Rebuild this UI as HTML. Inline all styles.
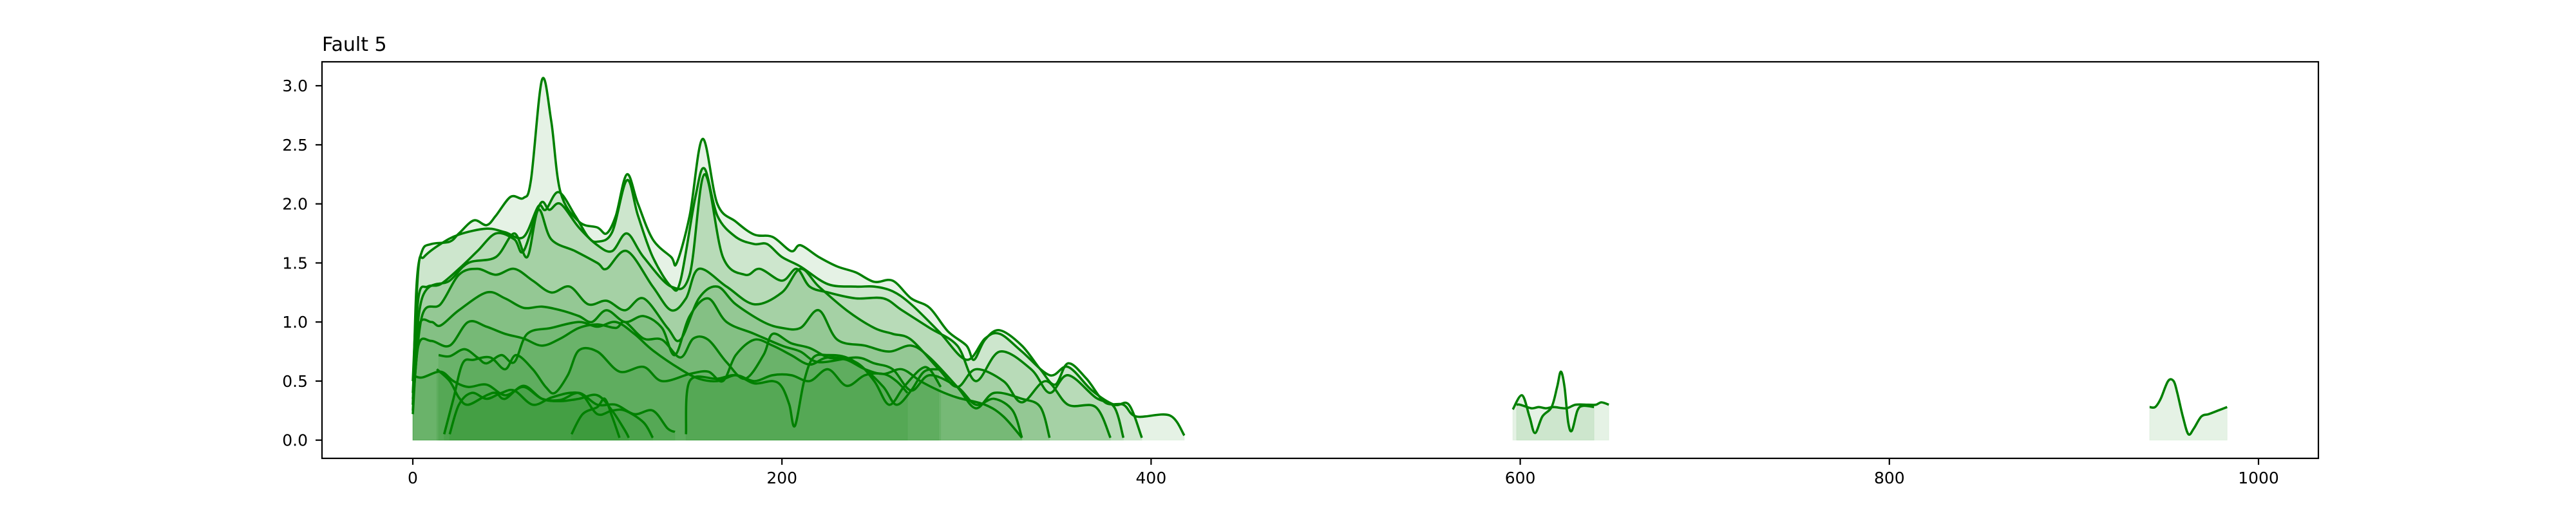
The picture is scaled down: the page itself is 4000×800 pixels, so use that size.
<!DOCTYPE html>
<html><head><meta charset="utf-8"><style>
html,body{margin:0;padding:0;background:#fff;}
svg{display:block;font-family:"DejaVu Sans","Liberation Sans",sans-serif;}
</style></head><body>
<svg id="chart" width="4000" height="800" viewBox="0 0 4000 800" xmlns="http://www.w3.org/2000/svg">
<defs><clipPath id="plotclip"><rect x="500" y="96" width="3100" height="616"/></clipPath></defs>
<text x="500" y="79" font-size="30">Fault 5</text>
<g id="fills" clip-path="url(#plotclip)"></g>
<g id="lines" clip-path="url(#plotclip)"></g>
<rect x="500" y="96" width="3100" height="616" fill="none" stroke="#000" stroke-width="2.2"/>
<g id="xticks"></g>
<g id="yticks"></g>
</svg>
<script>
const xTickValues = [0, 200, 400, 600, 800, 1000];
const yTickValues = [0.0, 0.5, 1.0, 1.5, 2.0, 2.5, 3.0];
const yTickLabels = ["0.0", "0.5", "1.0", "1.5", "2.0", "2.5", "3.0"];

const sA = [[0,0.3],[2,1.3],[5,1.6],[10,1.66],[20,1.68],[25,1.75],[33,1.86],[40,1.82],[45,1.9],[53,2.06],[60,2.05],[64,2.2],[70,3.05],[75,2.7],[80,2.1],[90,1.85],[100,1.8],[105,1.75],[110,1.9],[116,2.25],[122,2.0],[130,1.7],[140,1.55],[143,1.5],[150,1.9],[157,2.55],[165,2.0],[175,1.85],[185,1.74],[195,1.72],[205,1.6],[210,1.65],[220,1.55],[230,1.47],[240,1.42],[250,1.34],[260,1.35],[270,1.2],[280,1.12],[290,0.92],[300,0.8],[304,0.68],[310,0.85],[318,0.93],[330,0.8],[340,0.6],[348,0.47],[355,0.65],[365,0.52],[375,0.32],[385,0.3],[392,0.2],[410,0.21],[418,0.04]];
const sB = [[0,0.5],[3,1.45],[6,1.55],[15,1.66],[25,1.74],[40,1.79],[50,1.76],[60,1.72],[68,1.98],[72,1.95],[79,2.1],[88,1.9],[95,1.72],[100,1.68],[108,1.76],[116,2.2],[122,1.9],[130,1.55],[140,1.3],[145,1.35],[153,2.05],[158,2.3],[165,1.9],[175,1.72],[185,1.66],[192,1.66],[200,1.55],[210,1.47],[225,1.32],[240,1.3],[250,1.3],[260,1.26],[270,1.15],[285,0.92],[300,0.68],[310,0.86],[318,0.9],[330,0.75],[345,0.55],[355,0.62],[368,0.42],[380,0.3],[388,0.3],[395,0.02]];
const sC = [[0,0.4],[3,1.2],[8,1.3],[15,1.32],[25,1.45],[35,1.6],[45,1.75],[55,1.7],[60,1.6],[69,2.0],[74,1.95],[80,2.0],[90,1.8],[100,1.65],[108,1.6],[116,1.75],[125,1.55],[140,1.3],[150,1.4],[158,2.25],[168,1.55],[180,1.4],[188,1.45],[200,1.35],[208,1.45],[215,1.3],[225,1.25],[240,1.2],[255,1.2],[265,1.1],[280,0.95],[295,0.8],[305,0.5],[318,0.75],[335,0.6],[345,0.4],[355,0.55],[370,0.36],[380,0.28],[385,0.02]];
const sD = [[0,0.35],[5,1.2],[20,1.35],[30,1.5],[45,1.55],[55,1.75],[62,1.55],[68,1.95],[75,1.7],[88,1.6],[100,1.5],[105,1.45],[116,1.6],[130,1.3],[140,1.1],[148,1.2],[155,1.45],[170,1.3],[185,1.15],[200,1.25],[210,1.45],[220,1.3],[235,1.1],[250,0.95],[260,0.9],[270,0.85],[285,0.6],[295,0.45],[305,0.6],[320,0.5],[330,0.32],[343,0.5],[355,0.3],[370,0.28],[378,0.02]];
const sE = [[0,0.3],[5,1.05],[15,1.15],[25,1.4],[35,1.45],[45,1.4],[55,1.45],[65,1.35],[75,1.25],[85,1.3],[95,1.15],[105,1.18],[115,1.1],[125,1.2],[138,0.95],[145,0.85],[155,1.2],[165,1.3],[175,1.15],[190,1.0],[200,0.95],[210,0.95],[220,1.1],[230,0.85],[245,0.8],[258,0.75],[270,0.8],[280,0.7],[295,0.45],[305,0.27],[315,0.4],[330,0.35],[340,0.28],[345,0.02]];
const sF = [[0,0.25],[3,0.95],[10,1.0],[15,0.97],[25,1.1],[40,1.25],[50,1.2],[60,1.12],[70,1.13],[80,1.1],[90,1.05],[97,1.0],[105,1.1],[115,1.0],[125,1.05],[135,0.95],[142,0.72],[150,1.05],[160,1.2],[170,1.0],[185,0.9],[200,0.8],[210,0.75],[220,0.66],[240,0.7],[250,0.65],[260,0.6],[270,0.42],[280,0.55],[295,0.45],[305,0.3],[315,0.35],[325,0.25],[330,0.02]];
const sG = [[0,0.22],[3,0.8],[10,0.84],[20,0.8],[30,1.0],[40,0.96],[50,0.9],[60,0.86],[70,0.8],[80,0.86],[90,0.95],[100,0.98],[110,0.95],[115,1.0],[125,0.86],[135,0.85],[145,0.7],[152,0.86],[160,0.85],[170,0.66],[180,0.52],[190,0.72],[195,0.9],[205,0.82],[215,0.78],[225,0.7],[235,0.68],[245,0.6],[255,0.56],[265,0.6],[275,0.5],[285,0.42],[295,0.36],[310,0.3],[320,0.2],[330,0.02]];
const sH = [[0,0.55],[5,0.53],[15,0.58],[22,0.5],[30,0.45],[40,0.47],[50,0.38],[60,0.45],[70,0.35],[80,0.34],[90,0.4],[100,0.3],[110,0.3],[120,0.22],[130,0.25],[138,0.1],[142,0.07]];
const sI = [[14,0.72],[20,0.71],[28,0.77],[35,0.7],[40,0.65],[48,0.72],[55,0.66],[62,0.9],[75,0.95],[90,1.0],[100,0.96],[110,1.0],[120,0.9],[130,0.76],[145,0.6],[155,0.52],[165,0.5],[175,0.55],[185,0.5],[195,0.55],[205,0.55],[215,0.5],[225,0.6],[235,0.46],[245,0.55],[255,0.56],[262,0.5],[268,0.4]];
const sJ = [[13,0.6],[20,0.5],[25,0.36],[30,0.3],[40,0.38],[45,0.4],[50,0.35],[60,0.46],[70,0.35],[80,0.33],[90,0.35],[100,0.38],[108,0.25],[115,0.08],[117,0.02]];
const sK = [[17,0.05],[22,0.35],[27,0.65],[33,0.68],[42,0.7],[50,0.6],[56,0.72],[65,0.6],[72,0.45],[77,0.4],[84,0.55],[90,0.76],[100,0.75],[112,0.58],[125,0.62],[135,0.5],[150,0.56],[160,0.58],[168,0.5],[175,0.72],[185,0.85],[195,0.8],[205,0.72],[215,0.64],[225,0.7],[240,0.66],[250,0.5],[258,0.3],[266,0.45],[275,0.6],[280,0.6],[286,0.45]];
const sL = [[20,0.05],[25,0.3],[32,0.4],[40,0.35],[48,0.4],[55,0.42],[65,0.3],[75,0.36],[85,0.4],[92,0.38],[100,0.22],[108,0.25],[115,0.25],[125,0.15],[130,0.02]];
const sM = [[86,0.05],[92,0.22],[100,0.28],[104,0.35],[108,0.2],[112,0.02]];
const sN = [[148,0.05],[150,0.5],[165,0.52],[175,0.55],[185,0.48],[195,0.5],[200,0.45],[204,0.3],[207,0.12],[212,0.5],[217,0.7],[225,0.72],[235,0.7],[245,0.6],[255,0.45],[262,0.3],[270,0.42],[277,0.58],[285,0.6]];
const sP = [[596,0.26],[601,0.38],[605,0.2],[608,0.06],[612,0.2],[617,0.28],[620,0.45],[622,0.58],[624,0.45],[626,0.15],[628,0.08],[631,0.25],[634,0.29],[640,0.28]];
const sQ = [[598,0.3],[600,0.3],[606,0.27],[610,0.28],[614,0.27],[618,0.28],[625,0.27],[630,0.3],[637,0.3],[641,0.3],[644,0.32],[648,0.3]];
const sR = [[941,0.28],[944,0.28],[947,0.35],[951,0.5],[954,0.5],[956,0.4],[959,0.2],[962,0.05],[965,0.1],[969,0.2],[973,0.22],[978,0.25],[983,0.28]];
const seriesList = [sA, sB, sC, sD, sE, sF, sG, sH, sI, sJ, sK, sL, sM, sN, sP, sQ, sR];
const seriesNames = ["a","b","c","d","e","f","g","h","i","j","k","l","m","n","p","q","r"];

const X0 = 641, XPX = 2.866, Y0 = 683.7, YPX = 183.5;
function sx(v){ return X0 + v * XPX; }
function sy(v){ return Y0 - v * YPX; }
const NS = 'http://www.w3.org/2000/svg';

function smoothPath(pts){
  let d = 'M' + pts[0][0].toFixed(1) + ',' + pts[0][1].toFixed(1);
  for (let i = 0; i < pts.length - 1; i++){
    const p0 = pts[Math.max(0, i-1)], p1 = pts[i], p2 = pts[i+1], p3 = pts[Math.min(pts.length-1, i+2)];
    const c1x = p1[0] + (p2[0]-p0[0])/6, c1y = p1[1] + (p2[1]-p0[1])/6;
    const c2x = p2[0] - (p3[0]-p1[0])/6, c2y = p2[1] - (p3[1]-p1[1])/6;
    d += ' C' + c1x.toFixed(1)+','+c1y.toFixed(1)+' '+c2x.toFixed(1)+','+c2y.toFixed(1)+' '+p2[0].toFixed(1)+','+p2[1].toFixed(1);
  }
  return d;
}

const fillsG = document.getElementById('fills');
const linesG = document.getElementById('lines');
seriesList.forEach((s, idx) => {
  const pts = s.map(p => [sx(p[0]), sy(p[1])]);
  const lineD = smoothPath(pts);
  const first = pts[0], last = pts[pts.length-1];
  const fillD = lineD + ' L' + last[0].toFixed(1) + ',' + sy(0).toFixed(1) + ' L' + first[0].toFixed(1) + ',' + sy(0).toFixed(1) + ' Z';
  const f = document.createElementNS(NS, 'path');
  f.setAttribute('d', fillD);
  f.setAttribute('fill', 'rgb(0,128,0)');
  f.setAttribute('fill-opacity', '0.1');
  f.setAttribute('stroke', 'rgb(0,128,0)');
  f.setAttribute('stroke-opacity', '0.06');
  f.setAttribute('stroke-width', '1');
  
  
  fillsG.appendChild(f);
  const l = document.createElementNS(NS, 'path');
  l.setAttribute('d', lineD);
  l.setAttribute('fill', 'none');
  l.setAttribute('stroke', '#008000');
  l.setAttribute('stroke-width', '3.6');
  l.setAttribute('stroke-linejoin', 'round');
  
  
  linesG.appendChild(l);
});

const xg = document.getElementById('xticks');
xTickValues.forEach(v => {
  const x = sx(v);
  const t = document.createElementNS(NS, 'line');
  t.setAttribute('x1', x); t.setAttribute('x2', x);
  t.setAttribute('y1', 712); t.setAttribute('y2', 722);
  t.setAttribute('stroke', '#000'); t.setAttribute('stroke-width', '2.2');
  
  
  xg.appendChild(t);
  const tx = document.createElementNS(NS, 'text');
  tx.setAttribute('x', x); tx.setAttribute('y', 751);
  tx.setAttribute('text-anchor', 'middle'); tx.setAttribute('font-size', '25');
  tx.textContent = String(v);
  
  
  xg.appendChild(tx);
});
const yg = document.getElementById('yticks');
yTickValues.forEach((v, i) => {
  const y = sy(v);
  const t = document.createElementNS(NS, 'line');
  t.setAttribute('x1', 490); t.setAttribute('x2', 500);
  t.setAttribute('y1', y); t.setAttribute('y2', y);
  t.setAttribute('stroke', '#000'); t.setAttribute('stroke-width', '2.2');
  
  
  yg.appendChild(t);
  const tx = document.createElementNS(NS, 'text');
  tx.setAttribute('x', 478); tx.setAttribute('y', y + 9);
  tx.setAttribute('text-anchor', 'end'); tx.setAttribute('font-size', '25');
  tx.textContent = yTickLabels[i];
  
  
  yg.appendChild(tx);
});
</script>
</body></html>
